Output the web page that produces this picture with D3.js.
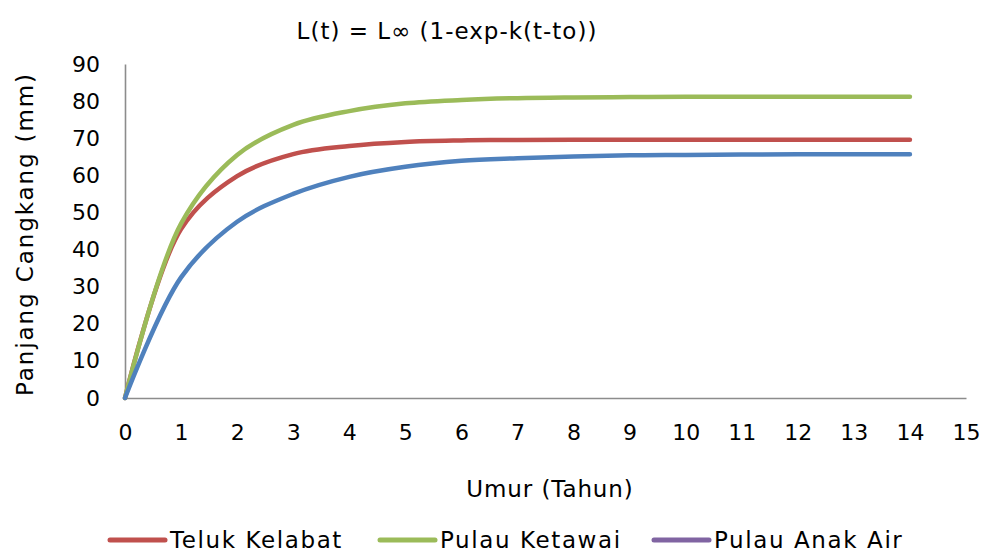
<!DOCTYPE html>
<html>
<head>
<meta charset="utf-8">
<script src="https://cdn.jsdelivr.net/npm/d3@7"></script>
<style>
  body { margin: 0; background: #fff; }
  text { font-family: "DejaVu Sans", sans-serif; fill: #000; }
</style>
</head>
<body>
<svg id="chart" width="982" height="552"></svg>
<script>
// umur (tahun)
const ages = [0, 1, 2, 3, 4, 5, 6, 7, 8, 9, 10, 11, 12, 13, 14];

// panjang cangkang (mm)
const telukKelabat = [0, 45.5, 59.8, 65.7, 67.9, 69.0, 69.4, 69.55, 69.6, 69.6, 69.6, 69.6, 69.6, 69.6, 69.6];
const pulauKetawai = [0, 47, 65.5, 73.6, 77.3, 79.4, 80.3, 80.8, 81.0, 81.1, 81.2, 81.2, 81.2, 81.2, 81.2];
const pulauAnakAir = [0, 32.5, 47.5, 55, 59.6, 62.3, 63.9, 64.6, 65.1, 65.4, 65.5, 65.6, 65.7, 65.7, 65.7];

const xTicks = d3.range(0, 16);
const yTicks = d3.range(0, 100, 10);

const series = [
  { name: "Teluk Kelabat", values: telukKelabat, color: "#c0504d", legend: "#c0504d" },
  { name: "Pulau Ketawai", values: pulauKetawai, color: "#9bbb59", legend: "#9bbb59" },
  { name: "Pulau Anak Air", values: pulauAnakAir, color: "#4f81bd", legend: "#8064a2" }
];

const svg = d3.select("#chart");
const x = d3.scaleLinear().domain([0, 15]).range([125, 966]);
const y = d3.scaleLinear().domain([0, 90]).range([398, 64]);

// axes, no tick marks
const xAxis = svg.append("g")
  .attr("transform", `translate(0,${y(0)})`)
  .call(d3.axisBottom(x).tickValues(xTicks).tickSize(0).tickPadding(26));
const yAxis = svg.append("g")
  .attr("transform", `translate(${x(0)},0)`)
  .call(d3.axisLeft(y).tickValues(yTicks).tickSize(0).tickPadding(25));

[xAxis, yAxis].forEach(g => {
  g.select(".domain").attr("stroke", "#8c8c8c").attr("stroke-width", 1.6);
  g.selectAll("text").style("font-family", "DejaVu Sans, sans-serif").style("font-size", "22px").attr("fill", "#000");
});

const line = d3.line()
  .x((d, i) => x(ages[i]))
  .y(d => y(d))
  .curve(d3.curveCatmullRom.alpha(0.5));

series.forEach(s => {
  svg.append("path")
    .datum(s.values)
    .attr("fill", "none")
    .attr("stroke", s.color)
    .attr("stroke-width", 4.5)
    .attr("stroke-linecap", "round")
    .attr("stroke-linejoin", "round")
    .attr("d", line);
});

// titles
svg.append("text")
  .attr("x", 447).attr("y", 39)
  .attr("text-anchor", "middle")
  .style("font-size", "23px")
  .style("letter-spacing", "1px")
  .text("L(t) = L\u221e (1-exp-k(t-to))");

svg.append("text")
  .attr("x", 550).attr("y", 497)
  .attr("text-anchor", "middle")
  .style("font-size", "23px")
  .style("letter-spacing", "0.9px")
  .text("Umur (Tahun)");

svg.append("text")
  .attr("transform", "translate(33,234) rotate(-90)")
  .attr("text-anchor", "middle")
  .style("font-size", "23px")
  .style("letter-spacing", "1.9px")
  .text("Panjang Cangkang (mm)");

// legend
const legendX = [110, 380, 654];
const lg = svg.append("g");
series.forEach((s, i) => {
  lg.append("line")
    .attr("x1", legendX[i]).attr("x2", legendX[i] + 55)
    .attr("y1", 540).attr("y2", 540)
    .attr("stroke", s.legend)
    .attr("stroke-width", 5)
    .attr("stroke-linecap", "round");
  lg.append("text")
    .attr("x", legendX[i] + 60).attr("y", 548)
    .style("font-size", "23px")
    .style("letter-spacing", "1.6px")
    .text(s.name);
});
</script>
</body>
</html>
